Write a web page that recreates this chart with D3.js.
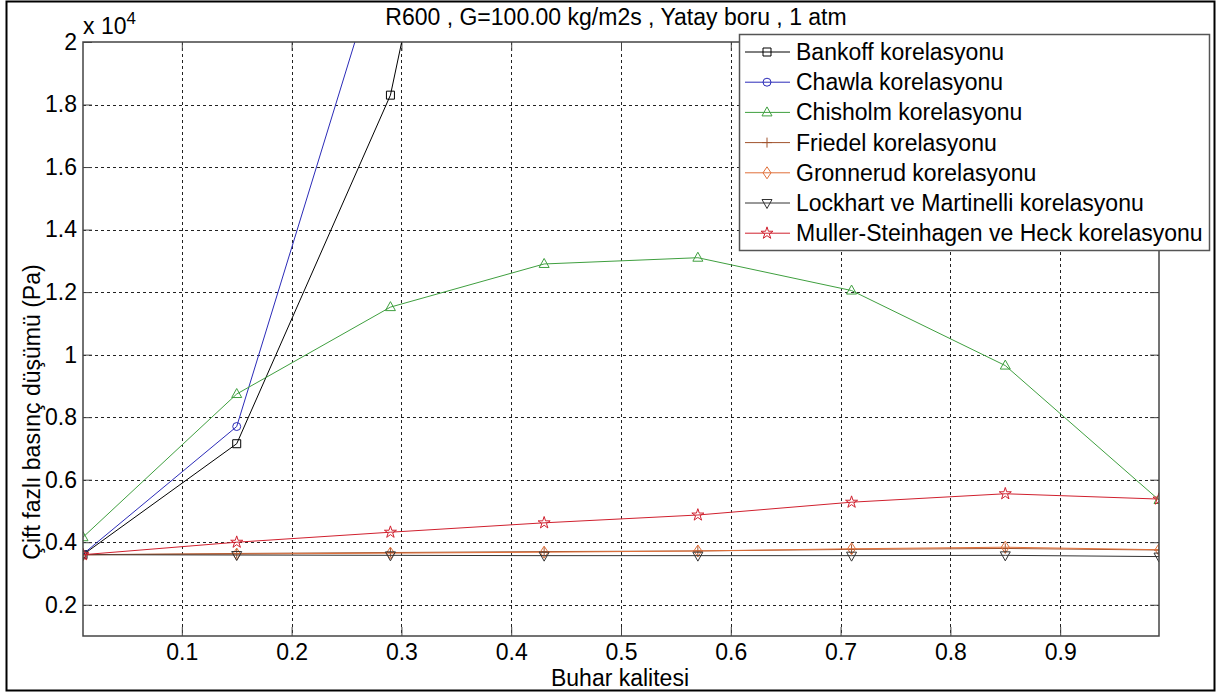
<!DOCTYPE html>
<html>
<head>
<meta charset="utf-8">
<title>R600 basinc dusumu</title>
<script src="https://d3js.org/d3.v7.min.js"></script>
<style>
  body { margin: 0; background: #fff; }
  text { font-family: "Liberation Sans", Arial, sans-serif; fill: #000; }
</style>
</head>
<body>
<div id="chart"></div>
<script>
// x values (buhar kalitesi)
var quality = [0.01, 0.15, 0.29, 0.43, 0.57, 0.71, 0.85, 0.99];

// pressure drop (Pa) for each correlation
var bankoff   = [3600, 7150, 18300, 41500, 72000, 108000, 150000, 198000];
var chawla    = [3620, 7700, 23700, 50000, 85000, 128000, 178000, 235000];
var chisholm  = [4160, 8740, 11520, 12900, 13100, 12050, 9650, 5350];
var friedel   = [3600, 3640, 3670, 3700, 3720, 3770, 3800, 3750];
var gronnerud = [3600, 3620, 3650, 3680, 3720, 3790, 3840, 3760];
var lockhart  = [3600, 3590, 3580, 3570, 3570, 3570, 3580, 3540];
var muller    = [3600, 4000, 4320, 4620, 4870, 5280, 5550, 5380];

var seriesNames = ["Bankoff korelasyonu", "Chawla korelasyonu", "Chisholm korelasyonu",
  "Friedel korelasyonu", "Gronnerud korelasyonu", "Lockhart ve Martinelli korelasyonu",
  "Muller-Steinhagen ve Heck korelasyonu"];
var seriesValues = [bankoff, chawla, chisholm, friedel, gronnerud, lockhart, muller];
var seriesColors = ["#000000", "#2b2bb8", "#3f9f3f", "#a0522d", "#e0703a", "#333333", "#d0202e"];
var seriesMarkers = ["square", "circle", "triangle", "plus", "diamond", "triangledown", "star"];

var xTicks = [0.1, 0.2, 0.3, 0.4, 0.5, 0.6, 0.7, 0.8, 0.9];
var yTicks = [2000, 4000, 6000, 8000, 10000, 12000, 14000, 16000, 18000, 20000];

var chartTitle = "R600 , G=100.00 kg/m2s , Yatay boru , 1 atm";
var xTitle = "Buhar kalitesi";
var yTitle = "Çift fazlı basınç düşümü (Pa)";

var W = 1217, H = 695;
var plot = {left: 83, right: 1159, top: 42, bottom: 636};

var svg = d3.select("#chart").append("svg")
    .attr("width", W)
    .attr("height", H);

// figure frame
svg.append("rect")
    .attr("x", 6.5).attr("y", 1.5)
    .attr("width", 1208).attr("height", 689)
    .attr("fill", "#fff")
    .attr("stroke", "#000")
    .attr("stroke-width", 2);

var x = d3.scaleLinear().domain([0.01, 0.99]).range([plot.left, plot.right]);
var y = d3.scaleLinear().domain([1000, 20000]).range([plot.bottom, plot.top]);

// grid
var grid = svg.append("g").attr("stroke", "#222").attr("stroke-width", 1)
    .attr("stroke-dasharray", "3,3").attr("shape-rendering", "crispEdges");
grid.selectAll(".gx").data(xTicks).enter().append("line")
    .attr("x1", d => Math.round(x(d)) + 0.5).attr("x2", d => Math.round(x(d)) + 0.5)
    .attr("y1", plot.top).attr("y2", plot.bottom);
grid.selectAll(".gy").data(yTicks.slice(0, -1)).enter().append("line")
    .attr("y1", d => Math.round(y(d)) + 0.5).attr("y2", d => Math.round(y(d)) + 0.5)
    .attr("x1", plot.left).attr("x2", plot.right);

// axes (inward ticks, box on)
var tickFmt = d => String(+(d / 1e4).toFixed(1));
var axisStyle = function(g) {
  g.select(".domain").remove();
  g.selectAll(".tick line").attr("stroke", "#444");
  g.selectAll(".tick text").style("font-size", "23px")
    .style("font-family", "'Liberation Sans', Arial, sans-serif");
};
svg.append("g")
    .attr("transform", "translate(0," + plot.bottom + ")")
    .call(d3.axisBottom(x).tickValues(xTicks).tickSizeInner(-9).tickSizeOuter(0)
      .tickPadding(8).tickFormat(d3.format(".1f")))
    .call(axisStyle);
svg.append("g")
    .attr("transform", "translate(0," + plot.top + ")")
    .call(d3.axisTop(x).tickValues(xTicks).tickSizeInner(-9).tickSizeOuter(0).tickFormat(""))
    .call(axisStyle);
svg.append("g")
    .attr("transform", "translate(" + plot.left + ",0)")
    .call(d3.axisLeft(y).tickValues(yTicks).tickSizeInner(-9).tickSizeOuter(0)
      .tickPadding(6).tickFormat(tickFmt))
    .call(axisStyle);
svg.append("g")
    .attr("transform", "translate(" + plot.right + ",0)")
    .call(d3.axisRight(y).tickValues(yTicks).tickSizeInner(-9).tickSizeOuter(0).tickFormat(""))
    .call(axisStyle);

// multiplier label
var mult = svg.append("text").attr("x", plot.left).attr("y", 34).style("font-size", "23px");
mult.append("tspan").text("x 10");
mult.append("tspan").attr("dy", -10).style("font-size", "17px").text("4");

// clip for data
svg.append("clipPath").attr("id", "clip").append("rect")
    .attr("x", plot.left).attr("y", plot.top)
    .attr("width", plot.right - plot.left).attr("height", plot.bottom - plot.top);

var line = d3.line().x((d, i) => x(quality[i])).y(d => y(d));

function markerPath(type) {
  switch (type) {
    case "square": return "M-4,-4H4V4H-4Z";
    case "circle": return d3.symbol(d3.symbolCircle, 50)();
    case "triangle": return "M0,-5.5L5,3.5L-5,3.5Z";
    case "triangledown": return "M0,5.5L5,-3.5L-5,-3.5Z";
    case "diamond": return "M0,-6L4,0L0,6L-4,0Z";
    case "plus": return "M-5,0H5M0,-5V5";
    case "star": return d3.symbol(d3.symbolStar, 45)();
  }
}

var dataG = svg.append("g").attr("clip-path", "url(#clip)");
seriesValues.forEach(function(vals, k) {
  dataG.append("path")
      .attr("d", line(vals))
      .attr("fill", "none")
      .attr("stroke", seriesColors[k])
      .attr("stroke-width", 1);
  dataG.selectAll(".m" + k).data(vals).enter().append("path")
      .attr("transform", (d, i) => "translate(" + x(quality[i]) + "," + y(d) + ")")
      .attr("d", markerPath(seriesMarkers[k]))
      .attr("fill", "none")
      .attr("stroke", seriesColors[k])
      .attr("stroke-width", 1);
});

// axes box
svg.append("rect")
    .attr("x", plot.left).attr("y", plot.top)
    .attr("width", plot.right - plot.left).attr("height", plot.bottom - plot.top)
    .attr("fill", "none").attr("stroke", "#444").attr("stroke-width", 1.5);

// titles
svg.append("text").attr("x", 616).attr("y", 25).attr("text-anchor", "middle")
    .style("font-size", "23px").text(chartTitle);
svg.append("text").attr("x", 620).attr("y", 686).attr("text-anchor", "middle")
    .style("font-size", "23px").text(xTitle);
svg.append("text")
    .attr("transform", "translate(40,412) rotate(-90)")
    .attr("text-anchor", "middle")
    .style("font-size", "23px").text(yTitle);

// legend
var legend = svg.append("g");
legend.append("rect")
    .attr("x", 739.5).attr("y", 34.5).attr("width", 470).attr("height", 216)
    .attr("fill", "#fff").attr("stroke", "#555").attr("stroke-width", 1.5);
seriesNames.forEach(function(name, k) {
  var cy = 52 + k * 30.2;
  legend.append("line")
      .attr("x1", 745).attr("x2", 790).attr("y1", cy).attr("y2", cy)
      .attr("stroke", seriesColors[k]).attr("stroke-width", 1);
  legend.append("path")
      .attr("transform", "translate(767," + cy + ")")
      .attr("d", markerPath(seriesMarkers[k]))
      .attr("fill", "none").attr("stroke", seriesColors[k]).attr("stroke-width", 1);
  legend.append("text")
      .attr("x", 796).attr("y", cy + 8)
      .style("font-size", "23px").text(name);
});
</script>
</body>
</html>
